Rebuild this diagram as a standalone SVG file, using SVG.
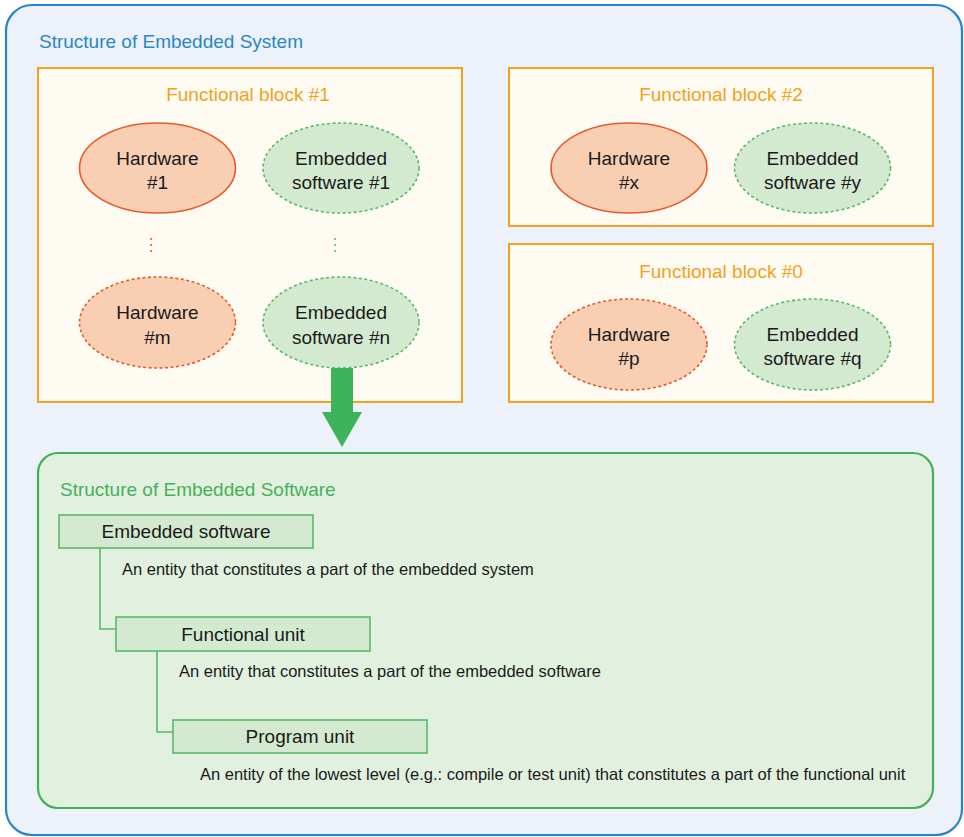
<svg xmlns="http://www.w3.org/2000/svg" width="964" height="837" viewBox="0 0 964 837">
<style>
text{font-family:"Liberation Sans",Arial,sans-serif;fill:#1a1a1a}
.blk{fill:#fefbf3;stroke:#f4a11c;stroke-width:2}
.bt{font-size:19px;fill:#f4a11c;text-anchor:middle}
.hw{fill:#f9cfb4;stroke:#e85a2a;stroke-width:1.6}
.sw{fill:#d4ead0;stroke:#5bb868;stroke-width:1.6;stroke-dasharray:3 2.5}
.dash{stroke-dasharray:3 2.5}
.nt{font-size:19px;text-anchor:middle}
.ub{fill:#d4ead0;stroke:#5bb868;stroke-width:1.6}
.ut{font-size:19px;text-anchor:middle}
.dt{font-size:16.5px}
.con{fill:none;stroke:#5bb868;stroke-width:1.6}
</style>
<rect x="6" y="5" width="956" height="830" rx="26" fill="#edf2fa" stroke="#2a84c8" stroke-width="2.2"/>
<text x="39" y="48" style="font-size:19px;fill:#2a86c8">Structure of Embedded System</text>

<g id="block1">
<rect class="blk" x="38" y="68" width="424" height="334"/>
<text class="bt" x="248" y="101">Functional block #1</text>
</g>
<g id="hw1"><ellipse class="hw" cx="157.5" cy="168" rx="78" ry="45"/><text class="nt" x="157.5" y="165">Hardware</text><text class="nt" x="157.5" y="189">#1</text></g>
<g id="sw1"><ellipse class="sw" cx="341" cy="168" rx="78" ry="45"/><text class="nt" x="341" y="165">Embedded</text><text class="nt" x="341" y="189">software #1</text></g>
<g id="hwm"><ellipse class="hw dash" cx="157.5" cy="322.5" rx="78" ry="45.5"/><text class="nt" x="157.5" y="319">Hardware</text><text class="nt" x="157.5" y="344">#m</text></g>
<g id="swn"><ellipse class="sw" cx="341" cy="322.5" rx="78" ry="45.5"/><text class="nt" x="341" y="319">Embedded</text><text class="nt" x="341" y="344">software #n</text></g>
<g id="dots">
<line x1="151" y1="238" x2="151" y2="253" stroke="#e85a2a" stroke-width="1.6" stroke-dasharray="2 4"/>
<line x1="335" y1="238" x2="335" y2="253" stroke="#5bb868" stroke-width="1.6" stroke-dasharray="2 4"/>
</g>

<g id="block2">
<rect class="blk" x="509" y="68" width="424" height="158"/>
<text class="bt" x="721" y="101">Functional block #2</text>
</g>
<g id="hwx"><ellipse class="hw" cx="629" cy="168" rx="78" ry="45"/><text class="nt" x="629" y="165">Hardware</text><text class="nt" x="629" y="189">#x</text></g>
<g id="swy"><ellipse class="sw" cx="812.5" cy="168" rx="78" ry="45"/><text class="nt" x="812.5" y="165">Embedded</text><text class="nt" x="812.5" y="189">software #y</text></g>

<g id="block0">
<rect class="blk" x="509" y="244" width="424" height="158"/>
<text class="bt" x="721" y="278">Functional block #0</text>
</g>
<g id="hwp"><ellipse class="hw dash" cx="629" cy="344.5" rx="78" ry="45.5"/><text class="nt" x="629" y="341">Hardware</text><text class="nt" x="629" y="365">#p</text></g>
<g id="swq"><ellipse class="sw" cx="812.5" cy="344.5" rx="78" ry="45.5"/><text class="nt" x="812.5" y="341">Embedded</text><text class="nt" x="812.5" y="365">software #q</text></g>

<g id="software-structure">
<rect x="38" y="453" width="895" height="355" rx="20" fill="#e2f0df" stroke="#45b05a" stroke-width="2.2"/>
<text x="60" y="496" style="font-size:19px;fill:#45b05a">Structure of Embedded Software</text>
</g>

<g id="connectors">
<path d="M331 368 H353 V412 H362 L342 447 L322 412 H331 Z" fill="#3db35a"/>
<path class="con" d="M100 548 V629 H116"/>
<path class="con" d="M157 651 V732 H173"/>
</g>

<g id="unit-es"><rect class="ub" x="59" y="515" width="254" height="33"/><text class="ut" x="186" y="538">Embedded software</text>
<text class="dt" x="122" y="575">An entity that constitutes a part of the embedded system</text></g>
<g id="unit-fu"><rect class="ub" x="116" y="617" width="254" height="34"/><text class="ut" x="243" y="641">Functional unit</text>
<text class="dt" x="179" y="677">An entity that constitutes a part of the embedded software</text></g>
<g id="unit-pu"><rect class="ub" x="173" y="720" width="254" height="33"/><text class="ut" x="300" y="743">Program unit</text>
<text class="dt" x="200" y="780">An entity of the lowest level (e.g.: compile or test unit) that constitutes a part of the functional unit</text></g>
</svg>
